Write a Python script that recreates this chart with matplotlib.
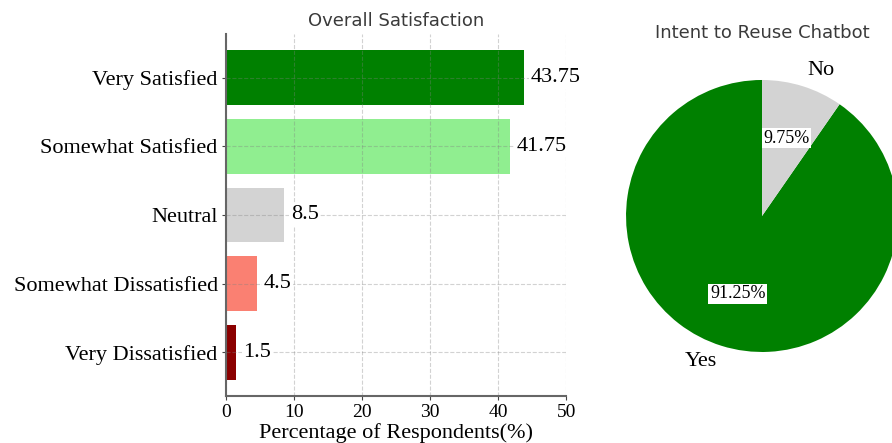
import matplotlib
matplotlib.use("Agg")
import matplotlib.pyplot as plt

# Survey results
satisfaction_levels = ["Very Satisfied", "Somewhat Satisfied", "Neutral",
                       "Somewhat Dissatisfied", "Very Dissatisfied"]
satisfaction_pct = [43.75, 41.75, 8.5, 4.5, 1.5]
bar_colors = ["green", "lightgreen", "lightgray", "salmon", "darkred"]

reuse_labels = ["Yes", "No"]
reuse_pct = [91.25, 9.75]
pie_colors = ["green", "lightgray"]

x_ticks = [0, 10, 20, 30, 40, 50]

serif = ["Liberation Serif", "DejaVu Serif"]
title_color = "#3a3a3a"

fig = plt.figure(figsize=(8.92, 4.43), dpi=100)

# Horizontal bar chart
ax = fig.add_axes([0.2534, 0.1061, 0.3812, 0.8172])
ypos = list(range(len(satisfaction_levels)))[::-1]
ax.barh(ypos, satisfaction_pct, color=bar_colors, height=0.8)
ax.set_yticks(ypos)
ax.set_yticklabels(satisfaction_levels, fontfamily=serif, fontsize=16)
ax.set_xticks(x_ticks)
ax.set_xticklabels([str(t) for t in x_ticks], fontfamily=serif, fontsize=14)
ax.set_xlim(0, 50)
ax.set_xlabel("Percentage of Respondents(%)", fontfamily=serif, fontsize=16,
              labelpad=1)
ax.set_title("Overall Satisfaction", fontsize=13, color=title_color, pad=6)
ax.grid(True, linestyle="--", color="gray", linewidth=0.8, alpha=0.35)
for s in ("top", "right"):
    ax.spines[s].set_visible(False)
for s in ("left", "bottom"):
    ax.spines[s].set_color("#666666")
    ax.spines[s].set_linewidth(1.5)
ax.tick_params(axis="both", length=3, color="#444444", pad=3)

for y, v in zip(ypos, satisfaction_pct):
    ax.text(v + 1.0, y, f"{v:g}", ha="left", va="center", fontsize=16,
            fontfamily=serif,
            bbox=dict(facecolor="white", edgecolor="none", pad=1))

# Pie chart
total = sum(reuse_pct)
pax = fig.add_axes([0.6637, 0.1287, 0.3812, 0.7675])
wedges, texts, autotexts = pax.pie(
    reuse_pct, labels=reuse_labels, colors=pie_colors, startangle=90,
    autopct=lambda p: f"{p * total / 100:.2f}%", labeldistance=1.12,
    textprops=dict(fontfamily=serif, fontsize=16))
for t in texts:
    t.set_bbox(dict(facecolor="white", edgecolor="none", pad=4))
for t in autotexts:
    t.set_fontsize(13)
    t.set_bbox(dict(facecolor="white", edgecolor="none", pad=1))
pax.set_xlim(-1.25, 1.25)
pax.set_ylim(-1.25, 1.25)
pax.set_aspect("equal")
pax.set_title("Intent to Reuse Chatbot", fontsize=13, color=title_color, pad=6)

fig.savefig("out.png", dpi=100)
